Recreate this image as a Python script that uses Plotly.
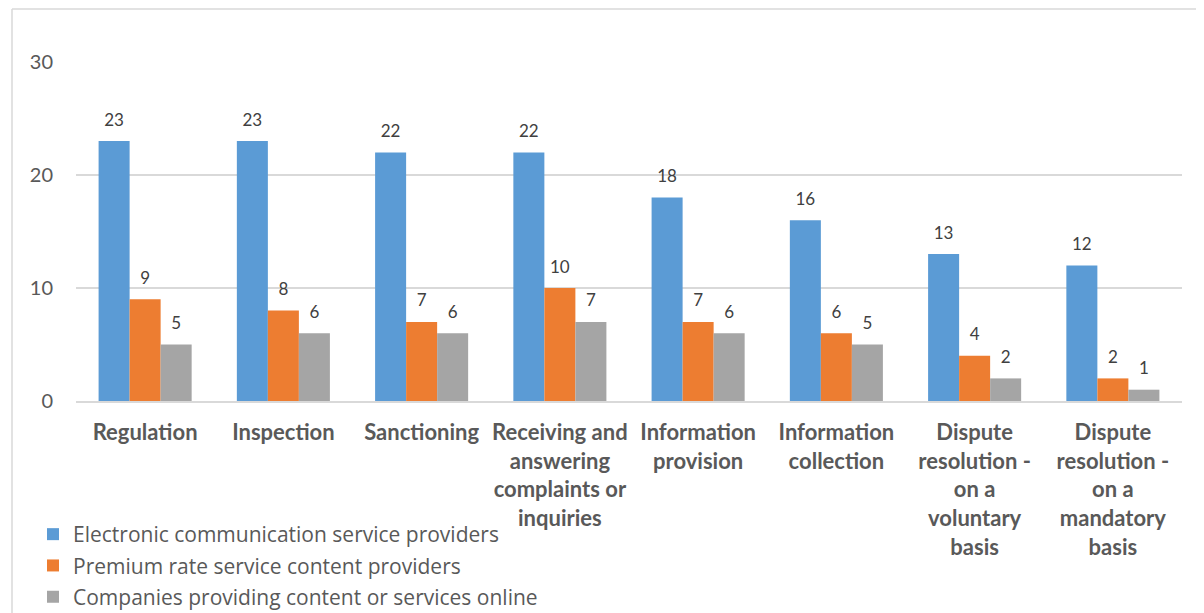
import plotly.graph_objects as go

categories = [
    "Regulation",
    "Inspection",
    "Sanctioning",
    "Receiving and<br>answering<br>complaints or<br>inquiries",
    "Information<br>provision",
    "Information<br>collection",
    "Dispute<br>resolution -<br>on a<br>voluntary<br>basis",
    "Dispute<br>resolution -<br>on a<br>mandatory<br>basis",
]
series_names = [
    "Electronic communication service providers",
    "Premium rate service content providers",
    "Companies providing content or services online",
]
electronic = [23, 23, 22, 22, 18, 16, 13, 12]
premium = [9, 8, 7, 10, 7, 6, 4, 2]
online = [5, 6, 6, 7, 6, 5, 2, 1]
colors = ["#5B9BD5", "#ED7D31", "#A5A5A5"]
y_ticks = [0, 10, 20, 30]

FONT = "Lato"
fig = go.Figure()
for i, (name, vals, col) in enumerate(zip(series_names, [electronic, premium, online], colors)):
    fig.add_trace(go.Bar(
        name=name, x=categories, y=vals,
        legendgroup=f"g{i}",
        marker=dict(color=col, line=dict(width=0)),
        text=vals,
        texttemplate="<span style='font-size:17px'>%{y}</span><br> ",
        textposition="outside",
        cliponaxis=False,
        textfont=dict(family=FONT, size=8, color="#404040"),
    ))

# page body has an 8px margin; work in screen pixels and convert
OFF = 8
W, H = 1204 - OFF, 613 - OFF
L, T = 76 - OFF, 62 - OFF
R = W - (1182 - OFF)
B = H - (401 - OFF)
pw, ph = W - L - R, H - T - B

def px(x):
    return (x - OFF - L) / pw

def py(y):
    return (H - B - (y - OFF)) / ph

fig.update_layout(
    width=W, height=H,
    margin=dict(l=L, r=R, t=T, b=B, autoexpand=False),
    paper_bgcolor="white", plot_bgcolor="white",
    barmode="group", bargap=0.327, bargroupgap=0,
    font=dict(family=FONT, color="#595959"),
    showlegend=True,
    legend=dict(
        x=px(33), y=py(514), xanchor="left", yanchor="top",
        orientation="v", font=dict(family="Open Sans", size=21, color="#595959"),
        itemwidth=30, tracegroupgap=1, bgcolor="rgba(0,0,0,0)",
    ),
    xaxis=dict(
        showgrid=False, showline=True, linecolor="#D9D9D9", linewidth=1.5,
        ticks="", tickfont=dict(family=FONT, size=22, color="#595959", weight="bold"),
        tickangle=0, ticklabelstandoff=11,
    ),
    yaxis=dict(
        range=[0, 30], tickvals=y_ticks, showgrid=True, gridcolor="#D9D9D9",
        gridwidth=1.5, zeroline=False, showline=False, ticks="",
        tickfont=dict(family=FONT, size=20, color="#595959"),
        ticklabelstandoff=22,
    ),
    shapes=[
        dict(type="line", xref="paper", yref="paper", x0=px(12), x1=px(1204), y0=py(9), y1=py(9),
             line=dict(color="#D9D9D9", width=1.5)),
        dict(type="line", xref="paper", yref="paper", x0=px(12), x1=px(12), y0=py(9), y1=py(613),
             line=dict(color="#D9D9D9", width=1.5)),
    ],
)
fig.update_xaxes(automargin=False)
fig.update_yaxes(automargin=False)
fig.write_html("out.html")
